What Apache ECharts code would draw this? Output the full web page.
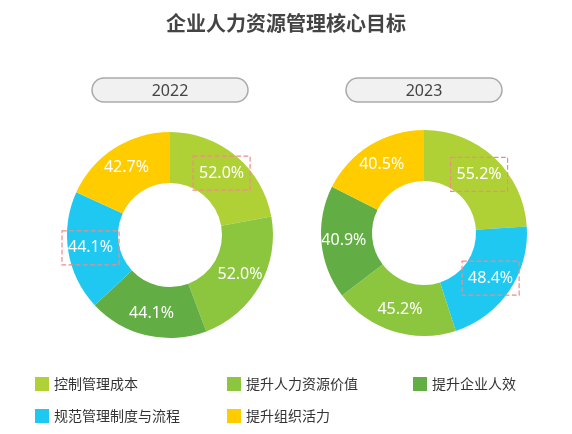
<!DOCTYPE html><html><head><meta charset="utf-8"><script src="https://cdn.jsdelivr.net/npm/echarts@6/dist/echarts.min.js"></script>
<style>html,body{margin:0;padding:0;background:#fff}#c{width:572px;height:434px}</style></head><body><div id="c"></div><script>
const categories=['控制管理成本','提升人力资源价值','提升企业人效','规范管理制度与流程','提升组织活力'];
const colors=['#b0d136','#8cc63f','#62ae44','#1ec8f0','#ffcc00'];
const order2022=[0,1,2,3,4];
const values2022=[52.0,52.0,44.1,44.1,42.7];
const boxed2022=[true,false,false,true,false];
const order2023=[0,3,1,2,4];
const values2023=[55.2,48.4,45.2,40.9,40.5];
const boxed2023=[true,true,false,false,false];
const years=['2022','2023'];
const centers=[[170,235],[424,233]];
function mk(order,vals,boxed){return order.map((ci,i)=>{const d={name:categories[ci],value:vals[i],itemStyle:{color:colors[ci]}};
 if(boxed[i])d.label={borderColor:'#f08a8a',borderType:'dashed',borderWidth:1.2,padding:[9,6,9,6]};return d;});}
const datasets=[mk(order2022,values2022,boxed2022),mk(order2023,values2023,boxed2023)];
const legendPos=[[30,372],[222,372],[408,372],[30,404],[222,404]];
const chart=echarts.init(document.getElementById('c'));
const g=[];
years.forEach((y,i)=>{const x0=centers[i][0]-78;
 g.push({type:'rect',shape:{x:x0,y:78,width:156,height:24,r:12},style:{fill:'#f1f1f1',stroke:'#aaa',lineWidth:1.5}});
 g.push({type:'text',style:{x:x0+78,y:91,text:y,align:'center',verticalAlign:'middle',fontSize:16,fill:'#444',fontFamily:'Noto Sans'}});});
chart.setOption({
 title:{text:'企业人力资源管理核心目标',left:'center',top:8,textStyle:{fontSize:20,fontWeight:'bold',color:'#444',fontFamily:'Noto Sans CJK SC'}},
 legend:categories.map((c,i)=>({data:[c],left:legendPos[i][0],top:legendPos[i][1],itemWidth:14,itemHeight:14,icon:'rect',itemGap:6,textStyle:{fontSize:14,color:'#333',fontFamily:'Noto Sans CJK SC'}})),
 graphic:g,
 series:datasets.map((d,i)=>({type:'pie',center:centers[i],radius:[52,103],startAngle:90,clockwise:true,avoidLabelOverlap:false,
  label:{position:'inside',color:'#fff',fontSize:16,fontFamily:'Noto Sans',formatter:p=>p.value.toFixed(1)+'%'},labelLine:{show:false},
  itemStyle:{borderColor:'#fff',borderWidth:0},emphasis:{disabled:true},data:d}))
});
</script></body></html>
